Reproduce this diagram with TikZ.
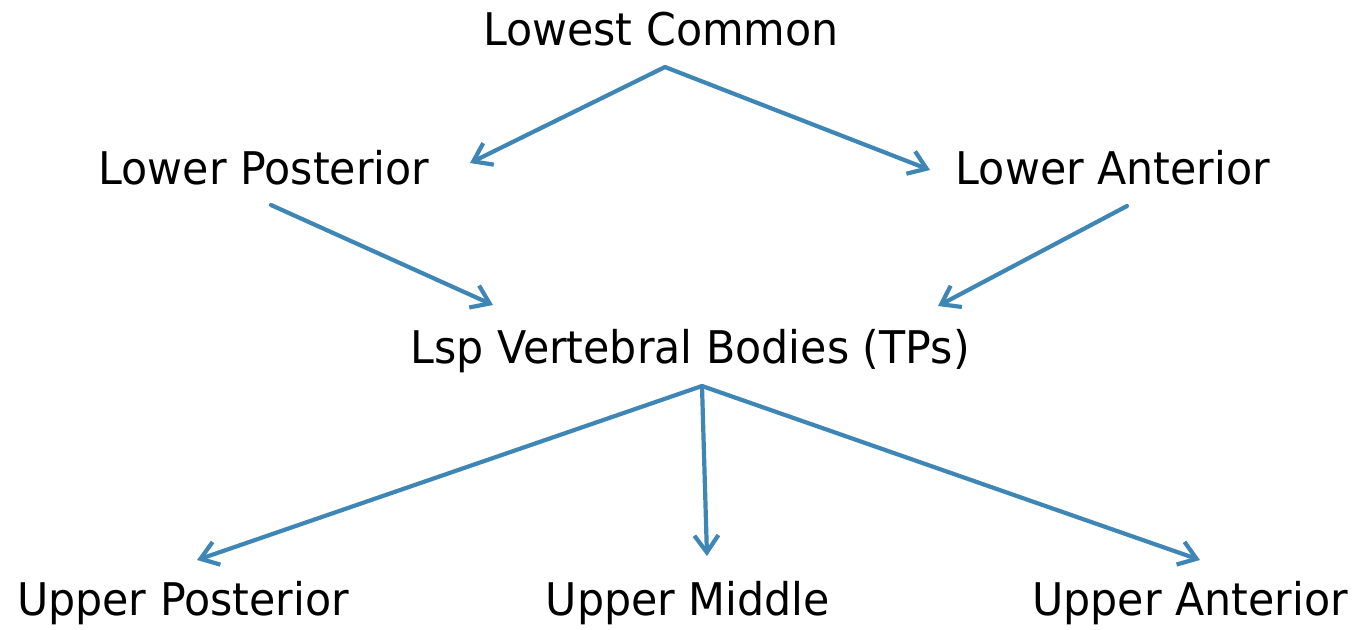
\documentclass[tikz,border=0pt]{standalone}
\usepackage{fontspec}
\setmainfont{DejaVu Sans}[FakeStretch=0.95]
\usepackage{tikz}
\usetikzlibrary{arrows.meta,positioning}
\definecolor{linkblue}{RGB}{62,134,182}

\begin{document}
\begin{tikzpicture}[x=0.5pt, y=-0.5pt,
    term/.style={font=\fontsize{22.5}{25}\selectfont, inner sep=0pt, anchor=base},
    link/.style={draw=linkblue, line width=2.1pt, line cap=round,
        -{Straight Barb[length=8.5pt, width=12pt]}}]
    \useasboundingbox (0,0) rectangle (1357,629);

    % levels, top to bottom
    \node[term] (lc) at (661,45) {Lowest Common};
    \node[term] (lp) at (264,184) {Lower Posterior};
    \node[term] (la) at (1113,184) {Lower Anterior};
    \node[term] (lsp) at (690,363) {Lsp Vertebral Bodies (TPs)};
    \node[term] (up) at (183,615) {Upper Posterior};
    \node[term] (um) at (688,615) {Upper Middle};
    \node[term] (ua) at (1190,615) {Upper Anterior};

    \draw[link] ([shift={(2pt,-11pt)}]lc.base) -- ([shift={(103pt,10.5pt)}]lp.base);
    \draw[link] ([shift={(2pt,-11pt)}]lc.base) -- ([shift={(-91.5pt,7pt)}]la.base);

    \draw[link] ([shift={(3.5pt,-10.5pt)}]lp.base) -- ([shift={(-98.5pt,29pt)}]lsp.base);
    \draw[link] ([shift={(7pt,-11pt)}]la.base) -- ([shift={(124pt,28.5pt)}]lsp.base);

    \draw[link] ([shift={(6pt,-11.5pt)}]lsp.base) -- ([shift={(7pt,27.5pt)}]up.base);
    \draw[link] ([shift={(6pt,-11.5pt)}]lsp.base) -- ([shift={(9.5pt,29.5pt)}]um.base);
    \draw[link] ([shift={(6pt,-11.5pt)}]lsp.base) -- ([shift={(5pt,27.5pt)}]ua.base);
\end{tikzpicture}
\end{document}
